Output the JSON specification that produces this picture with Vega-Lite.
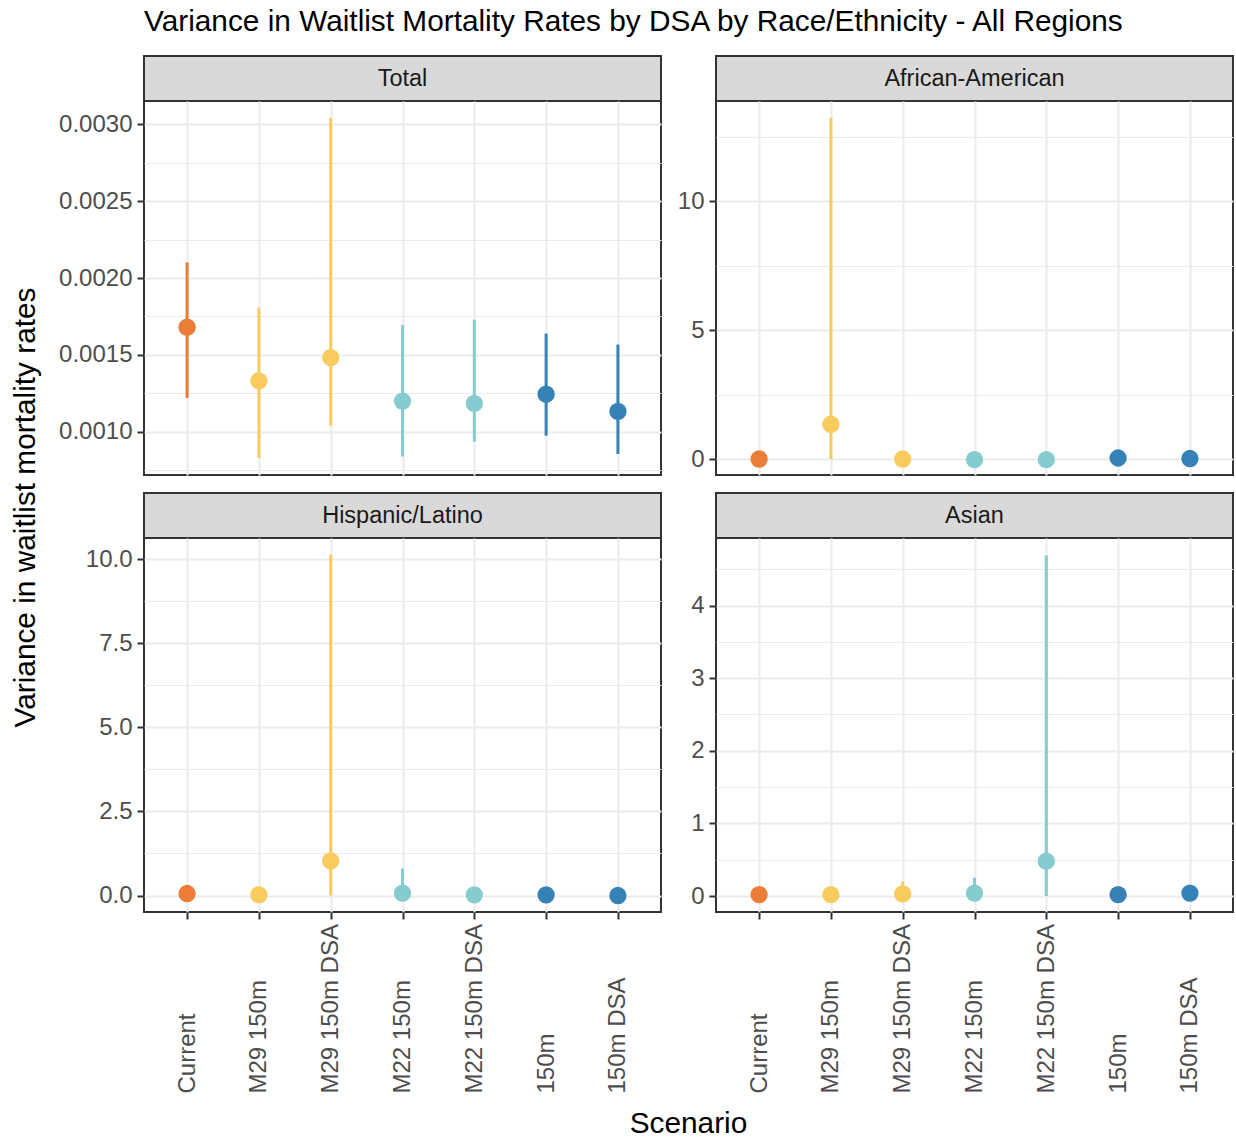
{
  "$schema": "https://vega.github.io/schema/vega-lite/v6.json",
  "background": "white",
  "padding": {"left": 9, "top": 7, "right": 5, "bottom": 5},
  "title": {"text": "Variance in Waitlist Mortality Rates by DSA by Race/Ethnicity - All Regions", "anchor": "start", "frame": "group", "fontSize": 29.8, "fontWeight": "normal", "color": "#000000", "font": "Liberation Sans", "offset": 18},
  "data": {"values": [
    {"group": "Total", "scenario": "Current", "type": "Current", "value": 0.00168, "low": 0.001219, "high": 0.002102},
    {"group": "Total", "scenario": "M29 150m", "type": "M29", "value": 0.001331, "low": 0.000829, "high": 0.001807},
    {"group": "Total", "scenario": "M29 150m DSA", "type": "M29", "value": 0.001482, "low": 0.001039, "high": 0.003041},
    {"group": "Total", "scenario": "M22 150m", "type": "M22", "value": 0.001199, "low": 0.000838, "high": 0.001694},
    {"group": "Total", "scenario": "M22 150m DSA", "type": "M22", "value": 0.001184, "low": 0.000935, "high": 0.001729},
    {"group": "Total", "scenario": "150m", "type": "150m", "value": 0.001244, "low": 0.000974, "high": 0.001638},
    {"group": "Total", "scenario": "150m DSA", "type": "150m", "value": 0.001132, "low": 0.000855, "high": 0.001567},
    {"group": "African-American", "scenario": "Current", "type": "Current", "value": 0.0, "low": 0.0, "high": 0.05},
    {"group": "African-American", "scenario": "M29 150m", "type": "M29", "value": 1.35, "low": 0.0, "high": 13.25},
    {"group": "African-American", "scenario": "M29 150m DSA", "type": "M29", "value": 0.0, "low": 0.0, "high": 0.05},
    {"group": "African-American", "scenario": "M22 150m", "type": "M22", "value": -0.02, "low": -0.03, "high": 0.03},
    {"group": "African-American", "scenario": "M22 150m DSA", "type": "M22", "value": -0.02, "low": -0.03, "high": 0.03},
    {"group": "African-American", "scenario": "150m", "type": "150m", "value": 0.04, "low": 0.0, "high": 0.1},
    {"group": "African-American", "scenario": "150m DSA", "type": "150m", "value": 0.02, "low": 0.0, "high": 0.08},
    {"group": "Hispanic/Latino", "scenario": "Current", "type": "Current", "value": 0.06, "low": 0.0, "high": 0.12},
    {"group": "Hispanic/Latino", "scenario": "M29 150m", "type": "M29", "value": 0.02, "low": 0.0, "high": 0.06},
    {"group": "Hispanic/Latino", "scenario": "M29 150m DSA", "type": "M29", "value": 1.03, "low": 0.0, "high": 10.13},
    {"group": "Hispanic/Latino", "scenario": "M22 150m", "type": "M22", "value": 0.07, "low": 0.0, "high": 0.8},
    {"group": "Hispanic/Latino", "scenario": "M22 150m DSA", "type": "M22", "value": 0.02, "low": 0.0, "high": 0.06},
    {"group": "Hispanic/Latino", "scenario": "150m", "type": "150m", "value": 0.02, "low": 0.0, "high": 0.06},
    {"group": "Hispanic/Latino", "scenario": "150m DSA", "type": "150m", "value": 0.0, "low": 0.0, "high": 0.04},
    {"group": "Asian", "scenario": "Current", "type": "Current", "value": 0.02, "low": 0.0, "high": 0.05},
    {"group": "Asian", "scenario": "M29 150m", "type": "M29", "value": 0.02, "low": 0.0, "high": 0.05},
    {"group": "Asian", "scenario": "M29 150m DSA", "type": "M29", "value": 0.03, "low": 0.0, "high": 0.2},
    {"group": "Asian", "scenario": "M22 150m", "type": "M22", "value": 0.04, "low": 0.0, "high": 0.25},
    {"group": "Asian", "scenario": "M22 150m DSA", "type": "M22", "value": 0.48, "low": 0.0, "high": 4.69},
    {"group": "Asian", "scenario": "150m", "type": "150m", "value": 0.02, "low": 0.0, "high": 0.05},
    {"group": "Asian", "scenario": "150m DSA", "type": "150m", "value": 0.04, "low": 0.0, "high": 0.08}
  ]},
  "columns": 2,
  "bounds": "flush",
  "spacing": {"row": 0, "column": 55},
  "concat": [
    {
      "width": 517, "height": 45,
      "view": {"fill": "#D9D9D9", "stroke": "#333333", "strokeWidth": 2},
      "transform": [{"filter": "datum.group === 'Total'"}, {"aggregate": [{"op": "count", "as": "n"}], "groupby": ["group"]}],
      "mark": {"type": "text", "fontSize": 23.5, "color": "#1A1A1A", "font": "Liberation Sans"},
      "encoding": {"text": {"field": "group", "type": "nominal"}}
    },
    {
      "width": 517, "height": 45,
      "view": {"fill": "#D9D9D9", "stroke": "#333333", "strokeWidth": 2},
      "transform": [{"filter": "datum.group === 'African-American'"}, {"aggregate": [{"op": "count", "as": "n"}], "groupby": ["group"]}],
      "mark": {"type": "text", "fontSize": 23.5, "color": "#1A1A1A", "font": "Liberation Sans"},
      "encoding": {"text": {"field": "group", "type": "nominal"}}
    },
    {
      "width": 517, "height": 374,
      "transform": [{"filter": "datum.group === 'Total'"}],
      "encoding": {
        "x": {"field": "scenario", "type": "nominal", "sort": ["Current", "M29 150m", "M29 150m DSA", "M22 150m", "M22 150m DSA", "150m", "150m DSA"], "scale": {"type": "point", "padding": 0.6}, "axis": {"labels": false, "ticks": false, "domain": false, "grid": true, "title": null}},
        "color": {"field": "type", "type": "nominal", "scale": {"domain": ["Current", "M29", "M22", "150m"], "range": ["#EB7D36", "#F8CB5F", "#86CBCE", "#3682B7"]}, "legend": null}
      },
      "layer": [
        {
          "mark": {"type": "rule", "strokeWidth": 3},
          "encoding": {
            "y": {"field": "low", "type": "quantitative", "scale": {"domain": [0.000718, 0.003152], "nice": false, "zero": false}, "axis": {"orient": "left", "values": [0.00075, 0.00125, 0.00175, 0.00225, 0.00275], "labels": false, "ticks": false, "domain": false, "grid": true, "gridWidth": 1, "title": null}},
            "y2": {"field": "high"}
          }
        },
        {
          "mark": {"type": "circle", "size": 300, "opacity": 1},
          "encoding": {
            "y": {"field": "value", "type": "quantitative", "scale": {"domain": [0.000718, 0.003152], "nice": false, "zero": false}, "axis": {"orient": "left", "values": [0.001, 0.0015, 0.002, 0.0025, 0.003], "format": ".4f", "grid": true, "title": "Variance in waitlist mortality rates", "titleAngle": 270, "titleX": -110, "titleY": 406, "titleAlign": "center", "titleBaseline": "alphabetic"}}
          }
        }
      ],
      "resolve": {"axis": {"y": "independent"}}
    },
    {
      "width": 517, "height": 374,
      "transform": [{"filter": "datum.group === 'African-American'"}],
      "encoding": {
        "x": {"field": "scenario", "type": "nominal", "sort": ["Current", "M29 150m", "M29 150m DSA", "M22 150m", "M22 150m DSA", "150m", "150m DSA"], "scale": {"type": "point", "padding": 0.6}, "axis": {"labels": false, "ticks": false, "domain": false, "grid": true, "title": null}},
        "color": {"field": "type", "type": "nominal", "scale": {"domain": ["Current", "M29", "M22", "150m"], "range": ["#EB7D36", "#F8CB5F", "#86CBCE", "#3682B7"]}, "legend": null}
      },
      "layer": [
        {
          "mark": {"type": "rule", "strokeWidth": 3},
          "encoding": {
            "y": {"field": "low", "type": "quantitative", "scale": {"domain": [-0.62, 13.9], "nice": false, "zero": false}, "axis": {"orient": "left", "values": [2.5, 7.5, 12.5], "labels": false, "ticks": false, "domain": false, "grid": true, "gridWidth": 1, "title": null}},
            "y2": {"field": "high"}
          }
        },
        {
          "mark": {"type": "circle", "size": 300, "opacity": 1},
          "encoding": {
            "y": {"field": "value", "type": "quantitative", "scale": {"domain": [-0.62, 13.9], "nice": false, "zero": false}, "axis": {"orient": "left", "values": [0, 5, 10], "format": "d", "grid": true, "title": null}}
          }
        }
      ],
      "resolve": {"axis": {"y": "independent"}}
    },
    {
      "width": 517, "height": 18,
      "view": {"stroke": null, "fill": null},
      "transform": [{"filter": "false"}],
      "mark": "point"
    },
    {
      "width": 517, "height": 18,
      "view": {"stroke": null, "fill": null},
      "transform": [{"filter": "false"}],
      "mark": "point"
    },
    {
      "width": 517, "height": 45,
      "view": {"fill": "#D9D9D9", "stroke": "#333333", "strokeWidth": 2},
      "transform": [{"filter": "datum.group === 'Hispanic/Latino'"}, {"aggregate": [{"op": "count", "as": "n"}], "groupby": ["group"]}],
      "mark": {"type": "text", "fontSize": 23.5, "color": "#1A1A1A", "font": "Liberation Sans"},
      "encoding": {"text": {"field": "group", "type": "nominal"}}
    },
    {
      "width": 517, "height": 45,
      "view": {"fill": "#D9D9D9", "stroke": "#333333", "strokeWidth": 2},
      "transform": [{"filter": "datum.group === 'Asian'"}, {"aggregate": [{"op": "count", "as": "n"}], "groupby": ["group"]}],
      "mark": {"type": "text", "fontSize": 23.5, "color": "#1A1A1A", "font": "Liberation Sans"},
      "encoding": {"text": {"field": "group", "type": "nominal"}}
    },
    {
      "width": 517, "height": 374,
      "transform": [{"filter": "datum.group === 'Hispanic/Latino'"}],
      "encoding": {
        "x": {"field": "scenario", "type": "nominal", "sort": ["Current", "M29 150m", "M29 150m DSA", "M22 150m", "M22 150m DSA", "150m", "150m DSA"], "scale": {"type": "point", "padding": 0.6}, "axis": {"labels": true, "ticks": true, "domain": false, "grid": true, "labelAngle": 270, "labelAlign": "left", "labelBaseline": "middle", "labelPadding": 174, "labelOverlap": false, "labelBound": false, "title": "Scenario", "titleX": 544, "titleY": 220, "titleAlign": "center", "titleBaseline": "alphabetic", "titleAngle": 0}},
        "color": {"field": "type", "type": "nominal", "scale": {"domain": ["Current", "M29", "M22", "150m"], "range": ["#EB7D36", "#F8CB5F", "#86CBCE", "#3682B7"]}, "legend": null}
      },
      "layer": [
        {
          "mark": {"type": "rule", "strokeWidth": 3},
          "encoding": {
            "y": {"field": "low", "type": "quantitative", "scale": {"domain": [-0.49, 10.63], "nice": false, "zero": false}, "axis": {"orient": "left", "values": [1.25, 3.75, 6.25, 8.75], "labels": false, "ticks": false, "domain": false, "grid": true, "gridWidth": 1, "title": null}},
            "y2": {"field": "high"}
          }
        },
        {
          "mark": {"type": "circle", "size": 300, "opacity": 1},
          "encoding": {
            "y": {"field": "value", "type": "quantitative", "scale": {"domain": [-0.49, 10.63], "nice": false, "zero": false}, "axis": {"orient": "left", "values": [0, 2.5, 5, 7.5, 10], "format": ".1f", "grid": true, "title": null}}
          }
        }
      ],
      "resolve": {"axis": {"y": "independent"}}
    },
    {
      "width": 517, "height": 374,
      "transform": [{"filter": "datum.group === 'Asian'"}],
      "encoding": {
        "x": {"field": "scenario", "type": "nominal", "sort": ["Current", "M29 150m", "M29 150m DSA", "M22 150m", "M22 150m DSA", "150m", "150m DSA"], "scale": {"type": "point", "padding": 0.6}, "axis": {"labels": true, "ticks": true, "domain": false, "grid": true, "labelAngle": 270, "labelAlign": "left", "labelBaseline": "middle", "labelPadding": 174, "labelOverlap": false, "labelBound": false, "title": null}},
        "color": {"field": "type", "type": "nominal", "scale": {"domain": ["Current", "M29", "M22", "150m"], "range": ["#EB7D36", "#F8CB5F", "#86CBCE", "#3682B7"]}, "legend": null}
      },
      "layer": [
        {
          "mark": {"type": "rule", "strokeWidth": 3},
          "encoding": {
            "y": {"field": "low", "type": "quantitative", "scale": {"domain": [-0.22, 4.93], "nice": false, "zero": false}, "axis": {"orient": "left", "values": [0.5, 1.5, 2.5, 3.5, 4.5], "labels": false, "ticks": false, "domain": false, "grid": true, "gridWidth": 1, "title": null}},
            "y2": {"field": "high"}
          }
        },
        {
          "mark": {"type": "circle", "size": 300, "opacity": 1},
          "encoding": {
            "y": {"field": "value", "type": "quantitative", "scale": {"domain": [-0.22, 4.93], "nice": false, "zero": false}, "axis": {"orient": "left", "values": [0, 1, 2, 3, 4], "format": "d", "grid": true, "title": null}}
          }
        }
      ],
      "resolve": {"axis": {"y": "independent"}}
    }
  ],
  "config": {
    "font": "Liberation Sans",
    "view": {"stroke": "#333333", "strokeWidth": 2},
    "axis": {"labelFont": "Liberation Sans", "labelFontSize": 24, "labelColor": "#4D4D4D", "tickColor": "#333333", "tickSize": 7, "tickWidth": 2, "domain": false, "gridColor": "#EBEBEB", "gridWidth": 2, "labelPadding": 5, "titleFont": "Liberation Sans", "titleFontSize": 29.8, "titleFontWeight": "normal", "titleColor": "#000000"}
  }
}
